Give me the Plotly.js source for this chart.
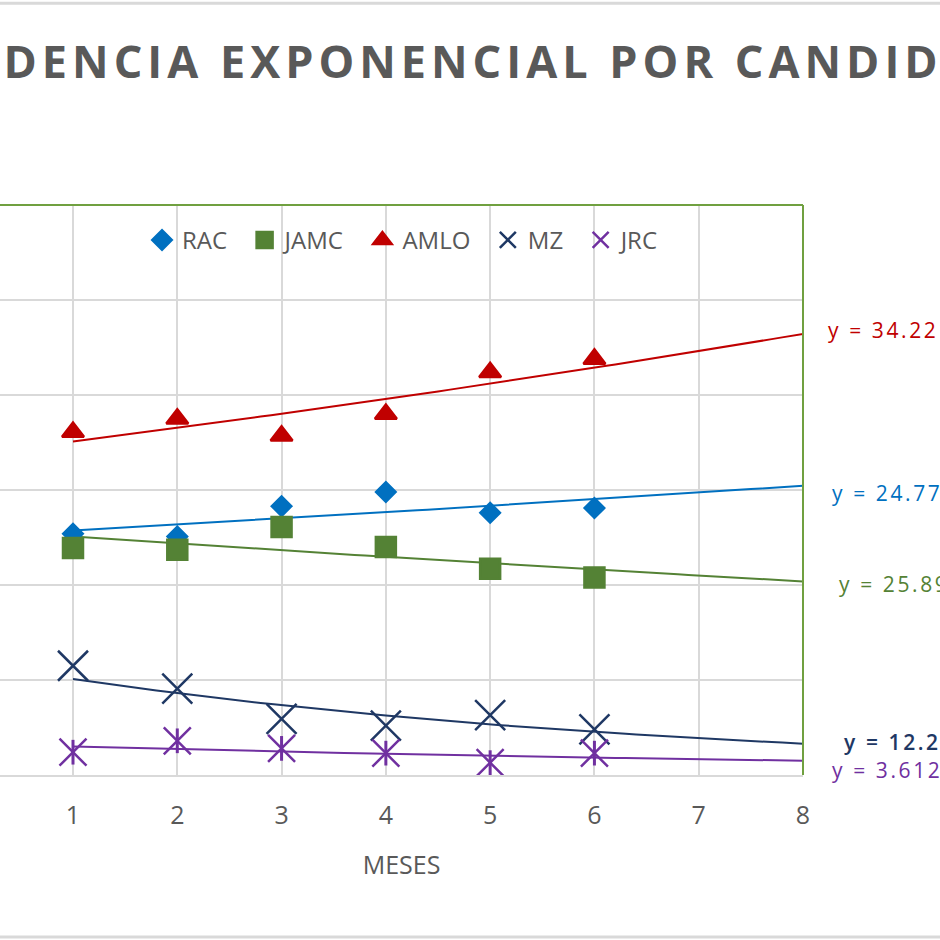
<!DOCTYPE html>
<html>
<head>
<meta charset="utf-8">
<script src="https://cdn.plot.ly/plotly-3.0.1.min.js"></script>
<style>
  body { margin: 0; background: #fff; }
  #graf { width: 940px; height: 940px; }
  .gtitle { letter-spacing: 5px; }
  .annotation-text { letter-spacing: 2.6px; }
</style>
</head>
<body>
<div id="graf"></div>
<script>
// meses y valores
var meses = [1, 2, 3, 4, 5, 6];
var candidatos = ["RAC", "JAMC", "AMLO", "MZ", "JRC"];
var rac  = [25.4, 25.1, 28.3, 29.8, 27.6, 28.1];
var jamc = [23.9, 23.7, 26.1, 24.0, 21.7, 20.8];
var amlo = [36.1, 37.5, 35.7, 38.0, 42.4, 43.8];
var mz   = [11.5, 9.1, 5.9, 5.2, 6.3, 4.8];
var jrc  = [2.4, 3.6, 2.8, 2.3, 1.3, 2.3];
var interceptos = ["24.771", "25.899", "34.221", "12.266", "3.6124"];
var ticksX = [1, 2, 3, 4, 5, 6, 7, 8];

var colores = ["#0070C0", "#548235", "#C00000", "#1F3864", "#7030A0"];
var series = [rac, jamc, amlo, mz, jrc];

// ajuste exponencial y = a*e^(bx) (como la linea de tendencia de Excel)
function ajusteExp(xs, ys) {
  var n = xs.length, mx = 0, my = 0;
  for (var i = 0; i < n; i++) { mx += xs[i]; my += Math.log(ys[i]); }
  mx /= n; my /= n;
  var sxy = 0, sxx = 0;
  for (var j = 0; j < n; j++) {
    sxy += (xs[j] - mx) * (Math.log(ys[j]) - my);
    sxx += (xs[j] - mx) * (xs[j] - mx);
  }
  var b = sxy / sxx;
  return { a: Math.exp(my - b * mx), b: b };
}

var data = [];
var anotaciones = [];
var posEtiqueta = [[1.034, 0.498], [1.042, 0.337], [1.029, 0.784], [1.048, 0.06], [1.034, 0.012]];

series.forEach(function (ys, k) {
  var f = ajusteExp(meses, ys);
  var tx = [], ty = [];
  for (var x = 1; x <= 8.0001; x += 0.1) { tx.push(x); ty.push(f.a * Math.exp(f.b * x)); }
  data.push({
    x: tx, y: ty, mode: "lines", showlegend: false, hoverinfo: "skip",
    line: { color: colores[k], width: 2 }
  });
  anotaciones.push({
    xref: "paper", yref: "paper", x: posEtiqueta[k][0], y: posEtiqueta[k][1],
    xanchor: "left", yanchor: "middle", showarrow: false,
    text: "y = " + interceptos[k] + "e<sup>" + f.b.toFixed(4) + "x</sup>",
    font: { family: "Open Sans", size: 21, color: colores[k], weight: k === 3 ? 600 : 400 }
  });
});

var simbolos = ["diamond", "square", "triangle-up", "x-thin-open", "x-thin-open"];
var tamanos = [15, 20, 19, 30, 27];
var nbsp = "\u00a0\u00a0";
series.forEach(function (ys, k) {
  var traza = {
    x: meses, y: ys, mode: "markers", name: candidatos[k] + nbsp,
    marker: {
      symbol: simbolos[k], size: tamanos[k], color: colores[k],
      line: { color: colores[k], width: 2.5 }
    }
  };
  // trazo vertical del asterisco de JRC
  if (k === 4) {
    traza.error_y = { type: "constant", value: 1.3, width: 0, thickness: 3, color: colores[k] };
  }
  data.push(traza);
});

var figuras = [
  { type: "line", xref: "paper", yref: "paper", x0: 0, x1: 1, y0: 1, y1: 1, line: { color: "#70A040", width: 2 } },
  { type: "line", xref: "paper", yref: "paper", x0: 1, x1: 1, y0: 0, y1: 1, line: { color: "#70A040", width: 2 } },
  { type: "line", xref: "paper", yref: "paper", x0: -0.01, x1: 1.2, y0: 1.354, y1: 1.354, line: { color: "#D9D9D9", width: 3 } },
  { type: "line", xref: "paper", yref: "paper", x0: -0.01, x1: 1.2, y0: -0.284, y1: -0.284, line: { color: "#D9D9D9", width: 3 } }
];

var layout = {
  width: 940, height: 940,
  margin: { l: 0, r: 137, t: 205, b: 165 },
  paper_bgcolor: "#ffffff", plot_bgcolor: "#ffffff",
  font: { family: "Open Sans", color: "#595959" },
  title: {
    text: "TENDENCIA EXPONENCIAL POR CANDIDATO",
    xref: "container", x: 0.506, xanchor: "center",
    yref: "container", y: 0.934, yanchor: "middle",
    font: { family: "Open Sans", size: 45, color: "#595959", weight: 700 }
  },
  xaxis: {
    range: [0.3, 8], tickvals: ticksX, ticks: "", showgrid: true,
    gridcolor: "#D9D9D9", gridwidth: 2, zeroline: false,
    showline: true, linecolor: "#D9D9D9", linewidth: 2,
    tickfont: { size: 25, color: "#595959" }, ticklabelstandoff: 17,
    title: { text: "MESES", font: { size: 25, color: "#595959" }, standoff: 26 }
  },
  yaxis: {
    range: [0, 60], dtick: 10, showticklabels: false, ticks: "",
    gridcolor: "#D9D9D9", gridwidth: 2, zeroline: false, showline: false
  },
  legend: {
    orientation: "h", x: 0.51, xanchor: "center", y: 0.938, yanchor: "middle",
    font: { size: 24, color: "#595959" }, bgcolor: "rgba(0,0,0,0)"
  },
  shapes: figuras,
  annotations: anotaciones
};

Plotly.newPlot("graf", data, layout, { staticPlot: true });
</script>
</body>
</html>
